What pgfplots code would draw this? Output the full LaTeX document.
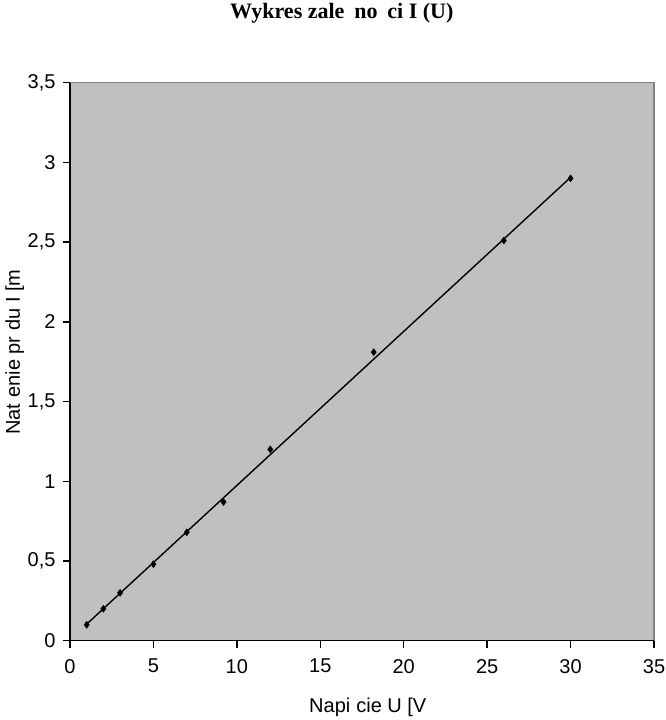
\documentclass[border=0pt]{standalone}
\usepackage{fontspec}
\setmainfont{Liberation Sans}
\newfontfamily\seriffont{Liberation Serif}
\usepackage{pgfplots}
\pgfplotsset{compat=1.18}
\definecolor{plotbg}{HTML}{C0C0C0}
\definecolor{framegray}{HTML}{808080}
\begin{document}
\begin{tikzpicture}[x=1pt,y=1pt]
\useasboundingbox (-70,-79.3) rectangle (595,640.7);
\begin{axis}[
  at={(0,0)}, anchor=south west,
  scale only axis, width=584pt, height=558pt,
  xmin=0, xmax=35, ymin=0, ymax=3.5,
  xtick={0,5,...,35}, ytick={0,0.5,...,3.5},
  xtick pos=bottom, ytick pos=left,
  tick align=outside, major tick length=7pt,
  tick style={black, line width=1.5pt},
  axis line style={draw=none},
  axis background/.style={fill=plotbg},
  /pgf/number format/use comma,
  /pgf/number format/assume math mode=true,
  tick label style={font=\fontsize{20}{24}\selectfont},
  xticklabel style={yshift=-8pt},
  yticklabel style={xshift=-4pt},
  clip=false,
]
\draw[framegray, line width=1.5pt] (rel axis cs:0,1) -- (rel axis cs:1,1) -- (rel axis cs:1,0);
\draw[black, line width=1.5pt] (rel axis cs:0,1) -- (rel axis cs:0,0) -- (rel axis cs:1,0);
\addplot[black, line width=1.4pt, no marks] coordinates {(1,0.104) (30,2.906)};
\addplot[only marks, mark=diamond*, mark size=3.5pt, black] coordinates {
(1,0.1) (2,0.2) (3,0.3) (5,0.48) (7,0.68) (9.2,0.87) (12,1.2) (18.2,1.81) (26,2.51) (30,2.9)
};
\end{axis}
\node[anchor=base west, inner sep=0pt, font=\seriffont\bfseries\fontsize{22}{26}\selectfont] at (160,621.7) {Wykres zale\hspace{0.45em}no\hspace{0.45em}ci I (U)};
\node[anchor=base west, inner sep=0pt, font=\fontsize{20}{24}\selectfont] at (239,-71.3) {Napi\hspace{0.3em}cie U [V};
\node[anchor=base west, inner sep=0pt, rotate=90, font=\fontsize{20}{24}\selectfont] at (-50,205.7) {Nat\hspace{0.3em}enie pr\hspace{0.3em}du I [m};
\end{tikzpicture}
\end{document}
